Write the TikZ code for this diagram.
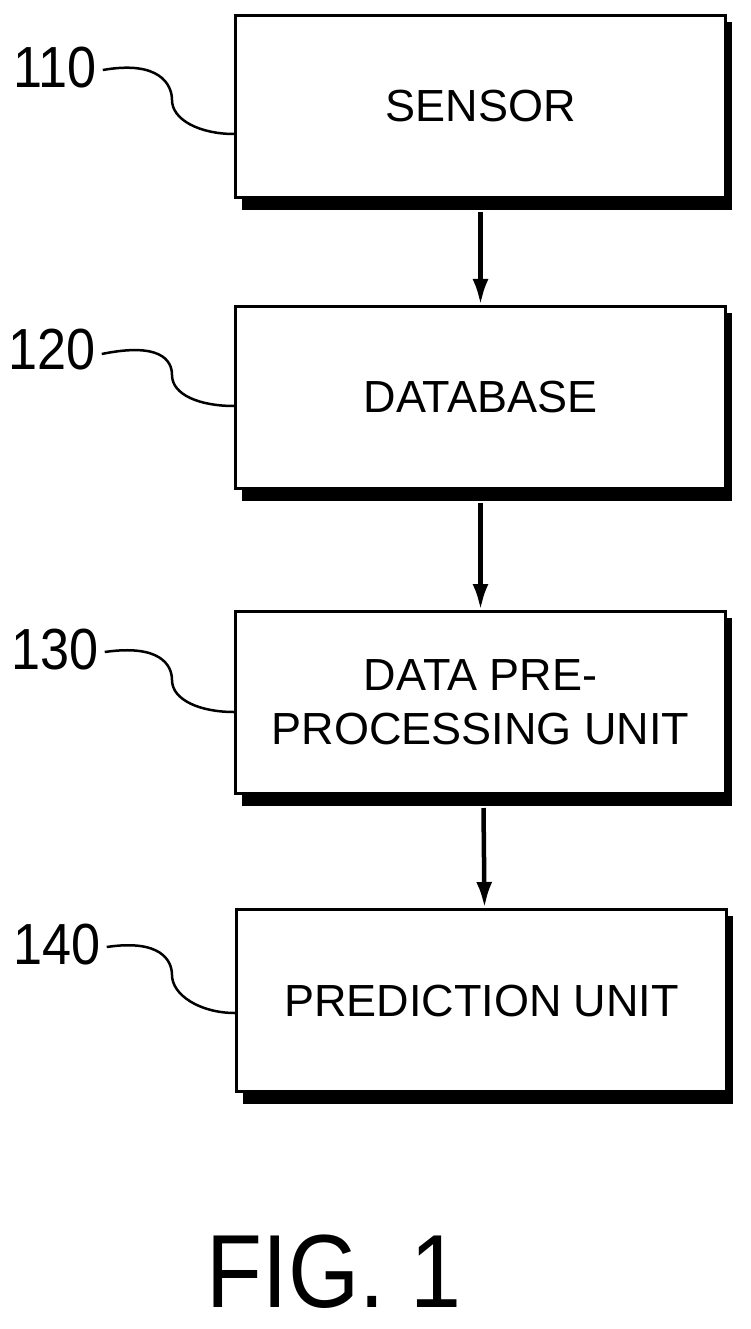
\documentclass[tikz,border=0pt]{standalone}
\usepackage{fontspec}
\setmainfont{Liberation Sans}
\usetikzlibrary{arrows.meta}
\begin{document}
\begin{tikzpicture}[x=1pt,y=-1pt,
  box/.style={draw,line width=3pt,fill=white,minimum width=490pt,minimum height=182pt,anchor=north west,inner sep=0pt,font=\fontsize{45}{54}\selectfont,align=center},
  lab/.style={font=\fontsize{58}{58}\selectfont,inner sep=0pt},
  arr/.style={line width=4.5pt,-{Latex[length=26pt,width=16pt]}},
  lead/.style={line width=2.5pt}]
\useasboundingbox (0,0) rectangle (750,1329);
\foreach \y/\x in {14/234,305/234,610/234,908/235}{
  \fill (\x+8,\y+8) rectangle (\x+498,\y+196);
}
\node[box] (s) at (234,14) {SENSOR};
\node[box] (d) at (234,305) {DATABASE};
\node[box] (p) at (234,610) {DATA PRE-\\PROCESSING UNIT};
\node[box] (u) at (235,908) {PREDICTION UNIT};
\draw[arr] ([yshift=-13pt]s.south) -- (d.north);
\draw[arr] ([yshift=-13pt]d.south) -- (p.north);
\draw[arr] ([yshift=-13pt,xshift=3pt]p.south) -- ([xshift=3pt]u.north);
\node[lab] (l1) at (55,68) {\scalebox{0.9}[1]{110}};
\node[lab] (l2) at (52,350) {\scalebox{0.9}[1]{120}};
\node[lab] (l3) at (55,650) {\scalebox{0.9}[1]{130}};
\node[lab] (l4) at (57,945) {\scalebox{0.9}[1]{140}};
\coordinate (e1) at (234,134);
\coordinate (e2) at (234,406);
\coordinate (e3) at (234,712);
\coordinate (e4) at (235,1013);
\draw[lead] (l1.east) ++(6pt,-2pt) .. controls (160,60) and (172,85) .. (172,100) .. controls (172,120) and (200,134) .. (e1);
\draw[lead] (l2.east) ++(6pt,-4pt) .. controls (160,342) and (172,360) .. (172,375) .. controls (172,395) and (200,406) .. (e2);
\draw[lead] (l3.east) ++(6pt,-2pt) .. controls (160,644) and (172,665) .. (172,680) .. controls (172,700) and (200,712) .. (e3);
\draw[lead] (l4.east) ++(6pt,-2pt) .. controls (160,939) and (172,960) .. (172,975) .. controls (172,995) and (200,1013) .. (e4);
\node[inner sep=0pt,font=\fontsize{104}{104}\selectfont] (fig) at (334,1272) {\scalebox{0.88}[1]{FIG. 1}};
\end{tikzpicture}
\end{document}
